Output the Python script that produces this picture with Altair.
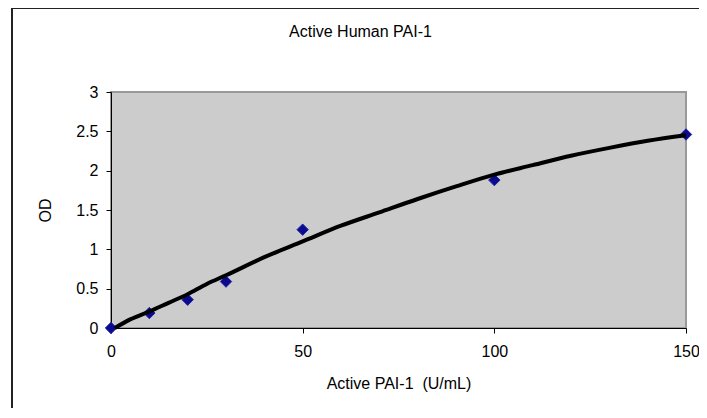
import altair as alt
import pandas as pd

# measured data points (Active PAI-1 U/mL vs OD)
conc = [0, 10, 20, 30, 50, 100, 150]
od = [0.0, 0.19, 0.36, 0.59, 1.25, 1.88, 2.46]

# fitted curve
fit_x = [1, 5, 10, 15, 20, 25, 30, 40, 50, 60, 70, 80, 90, 100, 110, 120, 130, 140, 150]
fit_y = [0.0, 0.11, 0.21, 0.32, 0.43, 0.56, 0.67, 0.90, 1.10, 1.30, 1.47, 1.64, 1.80, 1.95, 2.07, 2.19, 2.29, 2.38, 2.45]

x_ticks = [0, 50, 100, 150]
y_ticks = [0, 0.5, 1, 1.5, 2, 2.5, 3]

FONT = "Liberation Sans"

pts = pd.DataFrame({"conc": conc, "od": od})
fit = pd.DataFrame({"conc": fit_x, "od": fit_y})

xenc = alt.X(
    "conc:Q",
    scale=alt.Scale(domain=[0, 150], nice=False, zero=False),
    axis=alt.Axis(
        values=x_ticks,
        title="Active PAI-1\u00a0\u00a0(U/mL)",
        grid=False,
        labelFlush=False,
        domainColor="#000000",
        tickColor="#000000",
        tickSize=5,
        labelPadding=10,
        labelFont=FONT,
        labelFontSize=16,
        labelColor="#000000",
        titleFont=FONT,
        titleFontSize=16,
        titleFontWeight="normal",
        titleColor="#000000",
        titlePadding=16,
    ),
)
yenc = alt.Y(
    "od:Q",
    scale=alt.Scale(domain=[0, 3], nice=False),
    axis=alt.Axis(
        values=y_ticks,
        format="~g",
        title="OD",
        grid=False,
        labelFlush=False,
        domainColor="#000000",
        tickColor="#000000",
        tickSize=5,
        labelPadding=8,
        labelFont=FONT,
        labelFontSize=16,
        labelColor="#000000",
        titleFont=FONT,
        titleFontSize=16,
        titleFontWeight="normal",
        titleColor="#000000",
        titlePadding=22,
    ),
)

points = alt.Chart(pts).mark_point(
    shape="diamond", filled=True, size=130, color="#0a0a8c", opacity=1,
    stroke="#2323a8", strokeWidth=1
).encode(x=xenc, y=yenc)

line = alt.Chart(fit).mark_line(
    color="#000000", strokeWidth=4, interpolate="monotone"
).encode(x=xenc, y=yenc)

edge = pd.DataFrame({"a": [0]})
top_border = alt.Chart(edge).mark_rule(color="#222222", strokeWidth=2).encode(
    x=alt.value(-99), x2=alt.value(640), y=alt.value(-84)
)
left_border = alt.Chart(edge).mark_rule(color="#222222", strokeWidth=2).encode(
    x=alt.value(-99), y=alt.value(-84), y2=alt.value(420)
)

chart = alt.layer(top_border, left_border, points, line).properties(
    width=575,
    height=236,
    background="#ffffff",
    padding={"left": 103, "top": 84, "right": 13, "bottom": 80},
    autosize=alt.AutoSizeParams(type="none"),
    title=alt.TitleParams(
        "Active Human PAI-1",
        font=FONT,
        fontSize=16,
        fontWeight="normal",
        color="#000000",
        anchor="middle",
        frame="group",
        dx=-38,
        offset=-33,
    ),
).configure_view(
    fill="#cccccc", stroke="#999999", strokeWidth=2
)

chart.save("out.html", embed_options={"renderer": "svg", "actions": False})
